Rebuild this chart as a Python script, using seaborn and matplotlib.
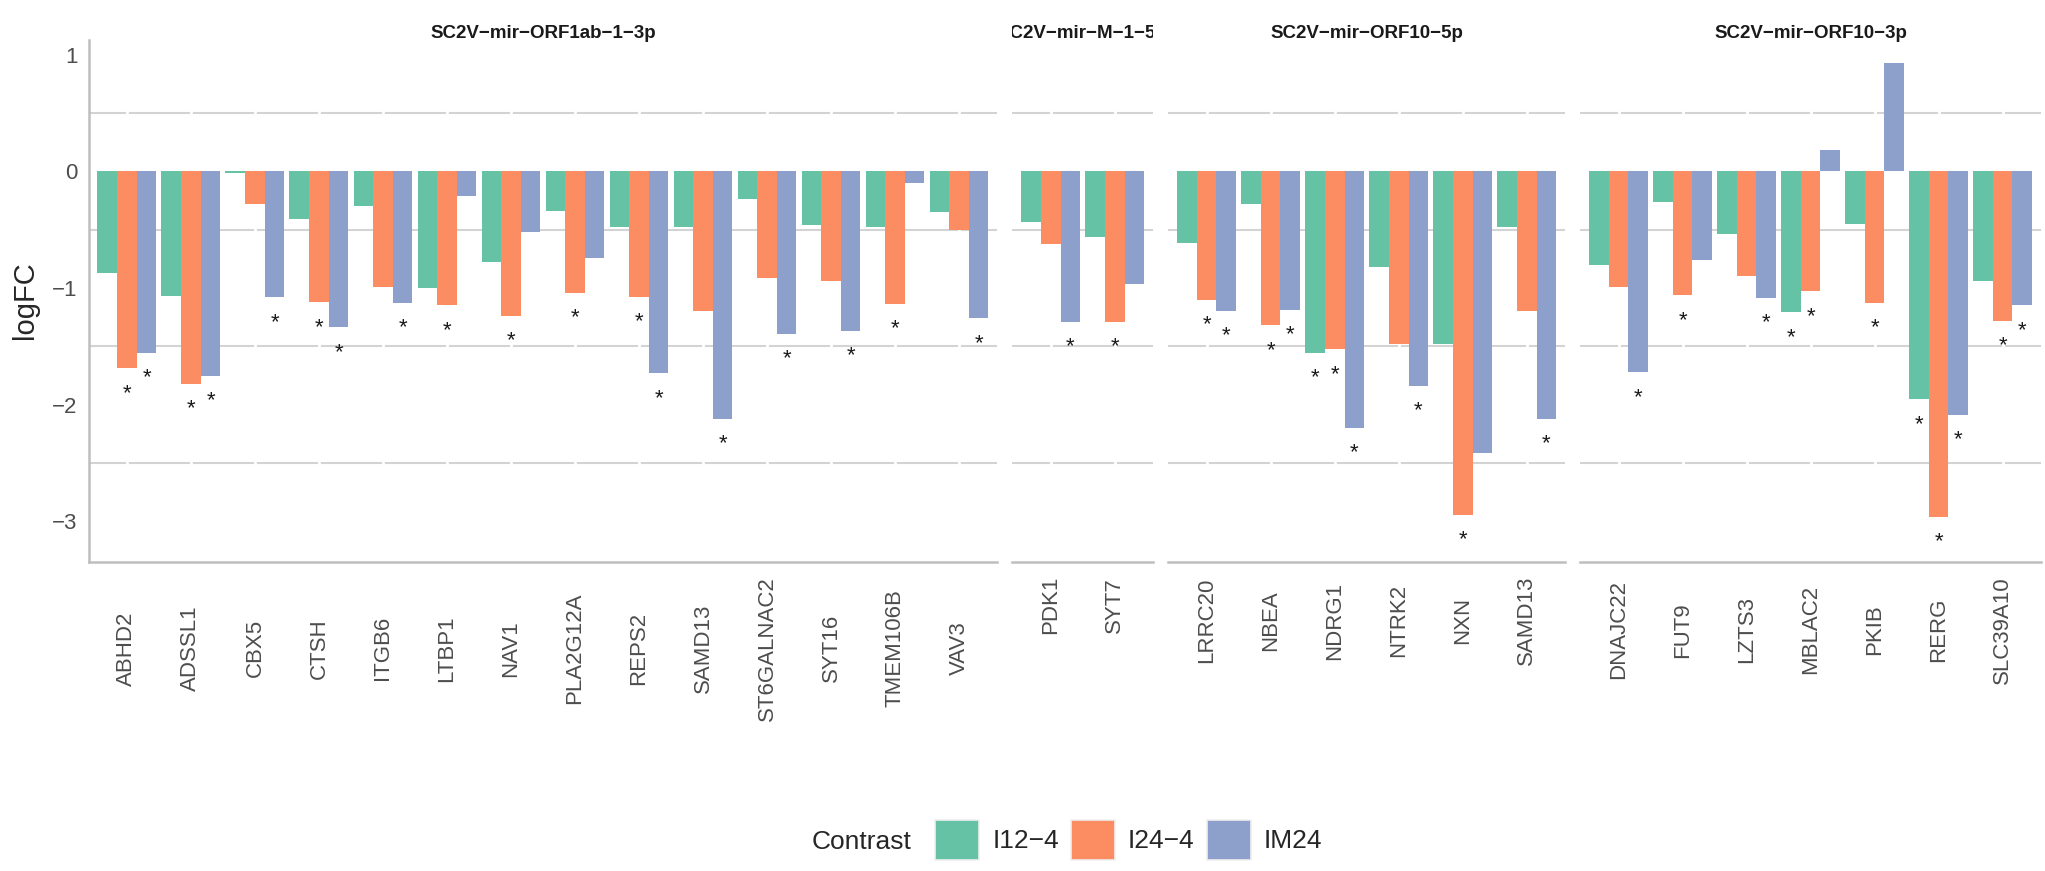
import numpy as np
import pandas as pd
import matplotlib
matplotlib.use("Agg")
import matplotlib.pyplot as plt
import seaborn as sns
from matplotlib.patches import Patch
from matplotlib.font_manager import FontProperties
from matplotlib.transforms import Bbox, TransformedBbox

sns.set_style("white")
plt.rcParams['font.family'] = ['Liberation Sans', 'DejaVu Sans']

CONTRASTS = ['I12−4', 'I24−4', 'IM24']
PALETTE = ['#66C2A5', '#FC8D62', '#8DA0CB']

# SC2V-mir-ORF1ab-1-3p
orf1ab_genes = ['ABHD2', 'ADSSL1', 'CBX5', 'CTSH', 'ITGB6', 'LTBP1', 'NAV1',
                'PLA2G12A', 'REPS2', 'SAMD13', 'ST6GALNAC2', 'SYT16', 'TMEM106B', 'VAV3']
orf1ab_i12 = [-0.875, -1.072, -0.012, -0.412, -0.295, -1.005, -0.774,
              -0.339, -0.482, -0.476, -0.235, -0.457, -0.482, -0.346]
orf1ab_i24 = [-1.690, -1.827, -0.284, -1.125, -0.989, -1.151, -1.237,
              -1.040, -1.075, -1.202, -0.919, -0.945, -1.135, -0.507]
orf1ab_im24 = [-1.561, -1.758, -1.082, -1.339, -1.126, -0.209, -0.517,
               -0.748, -1.734, -2.127, -1.392, -1.367, -0.098, -1.262]
orf1ab_sig = ['011', '011', '001', '011', '001', '010', '010',
              '010', '011', '001', '001', '001', '010', '001']

# SC2V-mir-M-1-5p
m15_genes = ['PDK1', 'SYT7']
m15_i12 = [-0.431, -0.568]
m15_i24 = [-0.628, -1.290]
m15_im24 = [-1.290, -0.964]
m15_sig = ['001', '010']

# SC2V-mir-ORF10-5p
orf10_5p_genes = ['LRRC20', 'NBEA', 'NDRG1', 'NTRK2', 'NXN', 'SAMD13']
orf10_5p_i12 = [-0.612, -0.285, -1.554, -0.818, -1.477, -0.476]
orf10_5p_i24 = [-1.100, -1.322, -1.528, -1.477, -2.949, -1.202]
orf10_5p_im24 = [-1.195, -1.186, -2.197, -1.839, -2.413, -2.127]
orf10_5p_sig = ['011', '011', '111', '001', '010', '001']

# SC2V-mir-ORF10-3p
orf10_3p_genes = ['DNAJC22', 'FUT9', 'LZTS3', 'MBLAC2', 'PKIB', 'RERG', 'SLC39A10']
orf10_3p_i12 = [-0.808, -0.260, -0.536, -1.211, -0.450, -1.956, -0.938]
orf10_3p_i24 = [-0.989, -1.065, -0.894, -1.030, -1.126, -2.961, -1.281]
orf10_3p_im24 = [-1.725, -0.758, -1.084, 0.181, 0.929, -2.086, -1.151]
orf10_3p_sig = ['001', '010', '001', '110', '010', '111', '011']

panels = [
    ('SC2V−mir−ORF1ab−1−3p', orf1ab_genes, orf1ab_i12, orf1ab_i24, orf1ab_im24, orf1ab_sig),
    ('SC2V−mir−M−1−5p', m15_genes, m15_i12, m15_i24, m15_im24, m15_sig),
    ('SC2V−mir−ORF10−5p', orf10_5p_genes, orf10_5p_i12, orf10_5p_i24, orf10_5p_im24, orf10_5p_sig),
    ('SC2V−mir−ORF10−3p', orf10_3p_genes, orf10_3p_i12, orf10_3p_i24, orf10_3p_im24, orf10_3p_sig),
]

W, H = 2045, 871
fig = plt.figure(figsize=(W / 100, H / 100), dpi=100)
ratios = [len(p[1]) + 0.2 for p in panels]
gap = 15
avg_w = (2041 - 88.5 - 3 * gap) / 4
gs = fig.add_gridspec(1, 4, width_ratios=ratios, left=88.5 / W, right=2041 / W,
                      top=1 - 40 / H, bottom=1 - 562 / H, wspace=gap / avg_w)

TICK_LEN = 5
STAR_DROP = 0.26
axes = []
for i, (title, genes, v1, v2, v3, sig) in enumerate(panels):
    ax = fig.add_subplot(gs[0, i])
    axes.append(ax)
    df = pd.DataFrame({'gene': genes * 3,
                       'logFC': v1 + v2 + v3,
                       'contrast': [c for c in CONTRASTS for _ in genes]})
    sns.barplot(data=df, x='gene', y='logFC', hue='contrast', order=genes,
                hue_order=CONTRASTS, palette=PALETTE, width=0.92, saturation=1,
                linewidth=0, errorbar=None, legend=False, ax=ax, zorder=2)

    # significance stars under the bars
    for patch in ax.patches:
        xc = patch.get_x() + patch.get_width() / 2
        gi = int(round(xc))
        hi = int(round((xc - gi) / patch.get_width())) + 1
        if 0 <= gi < len(genes) and sig[gi][hi] == '1':
            ax.text(xc, patch.get_y() + patch.get_height() - STAR_DROP, '*',
                    ha='center', va='baseline', fontsize=16, color='#1A1A1A')

    for yv in [0.5, -0.5, -1.5, -2.5]:
        ax.axhline(yv, color='#D3D3D3', lw=1.5, zorder=0.5)
    ax.vlines(range(len(genes)), -3.35, 1.125, color='white', lw=2, zorder=0.6)

    ax.set_xlim(-0.6, len(genes) - 0.4)
    ax.set_ylim(-3.35, 1.125)
    ax.set_xlabel('')
    ax.set_ylabel('')
    for s in ['top', 'right']:
        ax.spines[s].set_visible(False)
    ax.spines['bottom'].set_color('#BEBEBE')
    ax.spines['bottom'].set_linewidth(1.8)
    if i == 0:
        ax.spines['left'].set_color('#BEBEBE')
        ax.spines['left'].set_linewidth(1.8)
        ax.set_yticks([-3, -2, -1, 0, 1])
        ax.tick_params(axis='y', length=TICK_LEN, width=1.4, color='#333333',
                       labelsize=16, labelcolor='#4D4D4D', pad=3)
    else:
        ax.spines['left'].set_visible(False)
        ax.tick_params(axis='y', left=False, labelleft=False)
    ax.tick_params(axis='x', length=TICK_LEN, width=1.4, color='#333333',
                   labelsize=16, labelcolor='#4D4D4D', labelrotation=90)
    plt.setp(ax.get_xticklabels(), va='center', ha='center')

    # facet strip title, clipped to the panel width
    pos = ax.get_position()
    t = fig.text((pos.x0 + pos.x1) / 2, 1 - 38 / H, title, ha='center', va='baseline',
                 fontsize=13.5, fontweight='bold', color='#1A1A1A')
    t.set_clip_box(TransformedBbox(Bbox.from_extents(pos.x0, 0, pos.x1, 1), fig.transFigure))
    t.set_clip_on(True)

# centre the rotated gene labels of each panel on its longest label
fig.canvas.draw()
renderer = fig.canvas.get_renderer()
for ax in axes:
    hmax = max(lab.get_window_extent(renderer).height for lab in ax.get_xticklabels())
    ax.tick_params(axis='x', pad=(14 + hmax / 2) * 0.72 - TICK_LEN)

fig.text(25 / W, 1 - 300 / H, 'logFC', rotation=90, ha='center', va='center', fontsize=21)

leg_font = FontProperties(family=['Liberation Sans Narrow', 'Liberation Sans'], size=19)
handles = [Patch(facecolor=c, edgecolor='#EFEFEF', linewidth=1.2) for c in PALETTE]
fig.legend(handles, CONTRASTS, loc='center left', bbox_to_anchor=(935 / W, 1 - 840 / H),
           ncol=3, frameon=False, prop=leg_font, handlelength=1.67, handleheight=1.9,
           handletextpad=0.5, columnspacing=0.45, borderpad=0, borderaxespad=0)
fig.text(812 / W, 1 - 849 / H, 'Contrast', ha='left', va='baseline', fontproperties=leg_font)

fig.savefig('out.png', dpi=100)
